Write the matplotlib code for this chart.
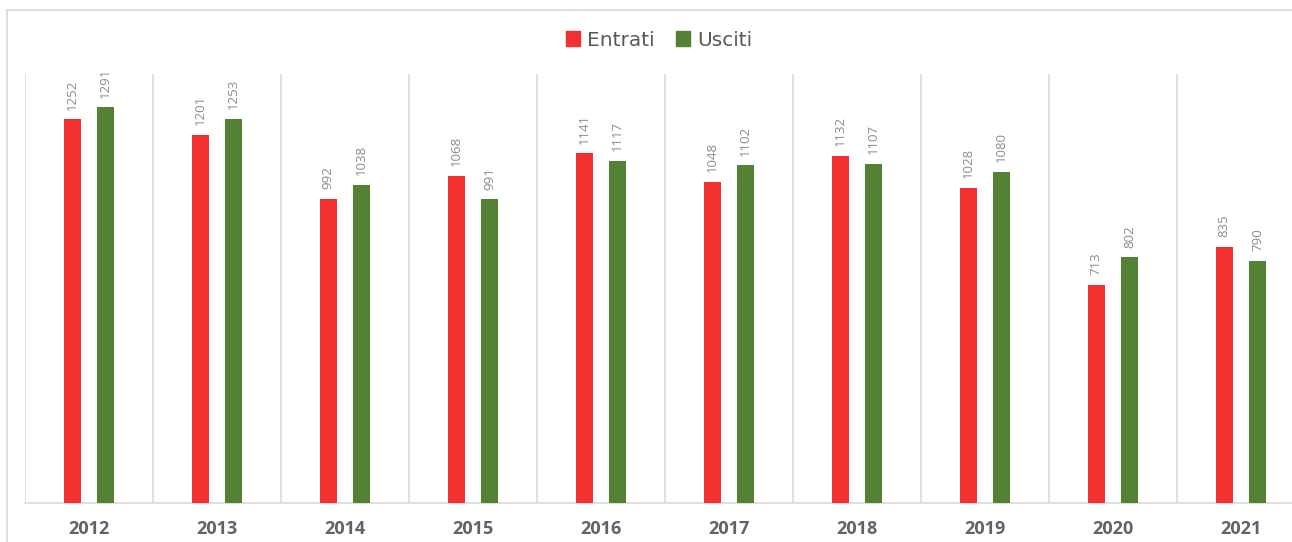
import numpy as np
import matplotlib.pyplot as plt
from matplotlib.lines import Line2D
from matplotlib.patches import Patch

anni = ['2012', '2013', '2014', '2015', '2016', '2017', '2018', '2019', '2020', '2021']
entrati = [1252, 1201, 992, 1068, 1141, 1048, 1132, 1028, 713, 835]
usciti = [1291, 1253, 1038, 991, 1117, 1102, 1107, 1080, 802, 790]

rosso = '#f03130'
verde = '#548235'
grigio = '#d9d9d9'

W, H = 1292, 542
fig = plt.figure(figsize=(W/100, H/100), dpi=100)

# outer chart border: only left and top edges are visible in the crop
fig.lines.append(Line2D([6.5/W, 6.5/W], [0, 1 - 9.5/H],
                        transform=fig.transFigure, color=grigio, linewidth=1.2))
fig.lines.append(Line2D([6.5/W, 1.2], [1 - 9.5/H, 1 - 9.5/H],
                        transform=fig.transFigure, color=grigio, linewidth=1.2))

ax = fig.add_axes([25/W, 39/H, 1280/W, (503-74)/H])
x = np.arange(len(anni))
bw = 0.1375
off = 0.13
b1 = ax.bar(x - off, entrati, bw, color=rosso, zorder=3)
b2 = ax.bar(x + off, usciti, bw, color=verde, zorder=3)

for bars in (b1, b2):
    for r in bars:
        ax.annotate(str(int(r.get_height())), (r.get_x() + r.get_width()/2, r.get_height()),
                    xytext=(0, 7), textcoords='offset points', rotation=90,
                    ha='center', va='bottom', fontsize=9.5, color='#8c8c8c',
                    family='Open Sans')

# category separators (the one at the far right lies outside the crop)
for i in range(len(anni)):
    ax.axvline(i - 0.5, color=grigio, linewidth=1.2, zorder=1)

ax.set_xlim(-0.5, len(anni) - 0.5)
ax.set_ylim(0, 1400)
ax.set_yticks([])
ax.set_xticks(x)
ax.set_xticklabels(anni, fontsize=13, fontweight='bold', color='#636363', family='Open Sans')
ax.tick_params(axis='x', length=0, pad=12)
for s in ['top', 'right', 'left']:
    ax.spines[s].set_visible(False)
ax.spines['bottom'].set_color(grigio)
ax.spines['bottom'].set_linewidth(1.2)

handles = [Patch(color=rosso, label='Entrati'), Patch(color=verde, label='Usciti')]
leg = fig.legend(handles=handles, loc='center', bbox_to_anchor=(659/W, 1 - 40/H), ncol=2,
                 frameon=False, fontsize=14.5, handlelength=0.7, handleheight=0.7,
                 handletextpad=0.35, columnspacing=1.05)
for t in leg.get_texts():
    t.set_color('#595959')

fig.savefig('out.png', dpi=100)
